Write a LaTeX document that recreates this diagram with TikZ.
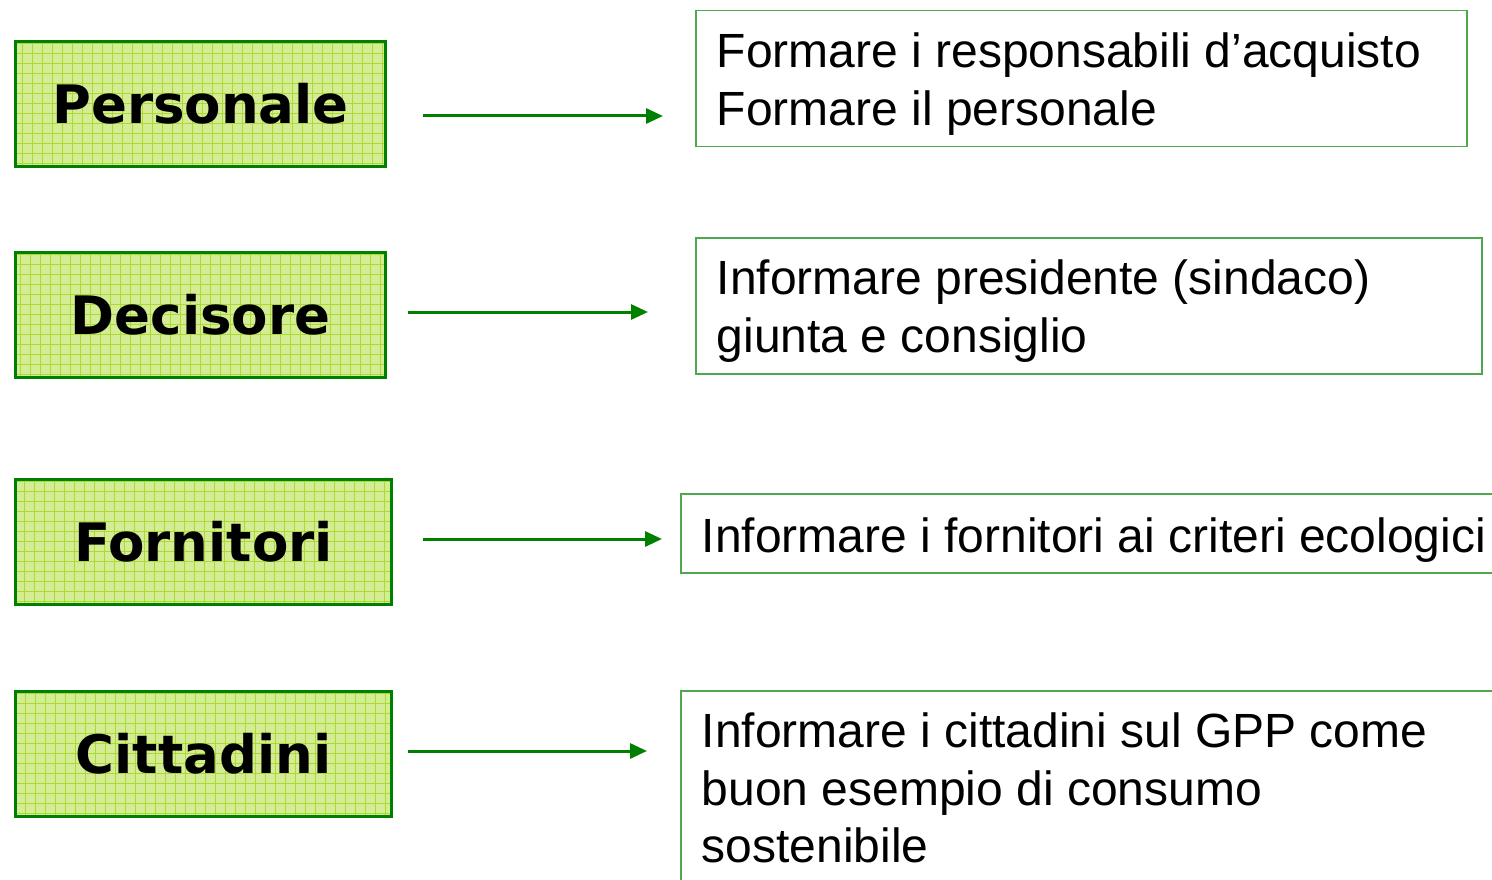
\documentclass[tikz,border=0pt]{standalone}
\usepackage{fontspec}
\setmainfont{Liberation Sans}
\newfontfamily\whofont{DejaVu Sans}
\usepackage{xcolor}
\usetikzlibrary{positioning,arrows.meta}

\definecolor{boxgreen}{RGB}{0,128,0}
\definecolor{fillgreen}{RGB}{212,236,148}
\definecolor{gridgreen}{RGB}{172,218,50}
\definecolor{linegreen}{RGB}{76,170,76}

\begin{document}
\begin{tikzpicture}[x=1pt, y=-1pt,
        who/.style={rectangle, draw=boxgreen, line width=3pt, fill=fillgreen, minimum width=370pt, minimum height=125pt, inner sep=0pt, font=\whofont\bfseries\fontsize{53}{60}\selectfont,
            path picture={\draw[gridgreen, line width=0.7pt] (path picture bounding box.south west) grid[step=10pt] (path picture bounding box.north east);}},
        task/.style={rectangle, draw=linegreen, line width=1.5pt, anchor=north west, align=flush left, inner xsep=21pt, inner ysep=0pt, font=\fontsize{48}{57.5}\selectfont},
        arrow/.style={-{Triangle[length=17pt,width=15pt]}, line width=3pt, draw=boxgreen, fill=boxgreen}
    ]
        \useasboundingbox (0,0) rectangle (1492,880);
        \clip (0,0) rectangle (1492,880);

        % Actors
        \node[who] (pers) at (200.5,104) {Personale};
        \node[who, below=83pt of pers] (dec) {Decisore};
        \node[who, minimum width=376pt, below right=99pt and 0pt of dec.south west] (forn) {Fornitori};
        \node[who, minimum width=376pt, below=84pt of forn] (cit) {Cittadini};

        % Actions
        \node[task, text width=729pt, minimum height=136pt, text height=45pt] (actA) at (695,10) {Formare i responsabili d’acquisto\\Formare il personale};
        \node[task, text width=744pt, minimum height=136pt, text height=45pt] (actB) at (695,237) {Informare presidente (sindaco)\\giunta e consiglio};
        \node[task, text width=800pt, minimum height=79pt, text height=39pt, text depth=0pt] (actC) at (680,493) {Informare i fornitori ai criteri ecologici};
        \node[task, text width=800pt, minimum height=198pt, text height=31pt] (actD) at (680,690) {Informare i cittadini sul GPP come\\buon esempio di consumo\\sostenibile};

        % Arrows
        \draw[arrow, shorten <=36pt, shorten >=32pt] ([yshift=-12pt]pers.east) -- ([yshift=-12pt]pers.east -| actA.west);
        \draw[arrow, shorten <=21pt, shorten >=47pt] ([yshift=3pt]dec.east) -- ([yshift=3pt]dec.east -| actB.west);
        \draw[arrow, shorten <=30pt, shorten >=18pt] ([yshift=3pt]forn.east) -- ([yshift=3pt]forn.east -| actC.west);
        \draw[arrow, shorten <=15pt, shorten >=33pt] ([yshift=3pt]cit.east) -- ([yshift=3pt]cit.east -| actD.west);

    \end{tikzpicture}
\end{document}
